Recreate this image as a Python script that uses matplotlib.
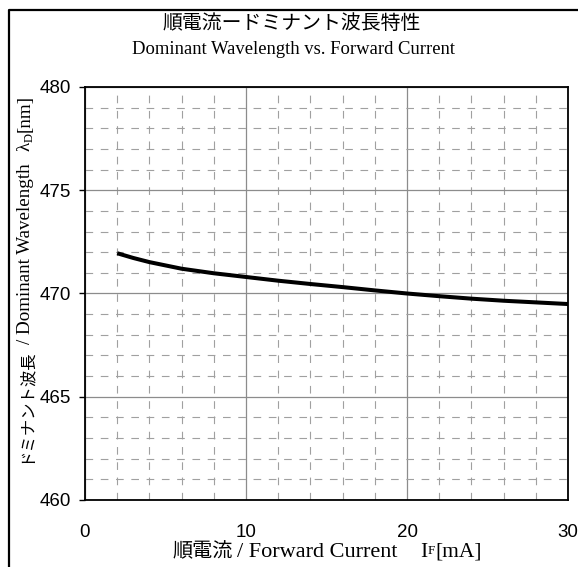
"""
Dominant wavelength vs. forward current chart (LED datasheet style).
"""

import matplotlib
matplotlib.use("Agg")
import matplotlib.pyplot as plt
from matplotlib.lines import Line2D
from matplotlib.ticker import MultipleLocator
from matplotlib.transforms import IdentityTransform

# Data
current_ma = [2, 3, 4, 6, 8, 10, 12, 14, 16, 18, 20, 22, 24, 26, 28, 30]
wavelength_nm = [471.95, 471.72, 471.52, 471.2, 470.98, 470.8, 470.62, 470.46,
                 470.31, 470.15, 470.0, 469.87, 469.75, 469.65, 469.57, 469.49]

x_ticks = [0, 10, 20, 30]
y_ticks = [460, 465, 470, 475, 480]

title_jp = "順電流ードミナント波長特性"
title_en = "Dominant Wavelength vs. Forward Current"

JP = "Noto Sans CJK JP"
SERIF = "Liberation Serif"
SANS = "Liberation Sans"

# label pieces: (text, family, size, gap before [px], baseline shift [px])
xlabel_runs = [
    ("順電流", JP, 14.5, 0, 0),
    ("/ Forward Current", SERIF, 16, 5, 0),
    ("I", SERIF, 15.5, 22, 0),
    ("F", SERIF, 9.5, 0, -3),
    ("[mA]", SERIF, 15.5, 1, 0),
]
ylabel_runs = [
    ("ドミナント波長", JP, 11.8, 0, 0),
    ("/ Dominant Wavelength", SERIF, 13.7, 4, 0),
    ("λ", SERIF, 13.7, 13, 0),
    ("D", SERIF, 9, 0, 3),
    ("[nm]", SERIF, 13.7, 1, 0),
]

plt.rcParams["lines.scale_dashes"] = False

W, H = 578, 567
fig = plt.figure(figsize=(W / 100, H / 100), dpi=100)
ax = fig.add_axes([85 / W, 1 - 500 / H, (568 - 85) / W, (500 - 87) / H])

ax.plot(current_ma, wavelength_nm, color="black", linewidth=2.9,
        solid_joinstyle="round", solid_capstyle="butt", zorder=5,
        clip_on=False)

ax.set_xlim(x_ticks[0], x_ticks[-1])
ax.set_ylim(y_ticks[0], y_ticks[-1])
ax.set_xticks(x_ticks)
ax.set_yticks(y_ticks)
ax.xaxis.set_minor_locator(MultipleLocator(2))
ax.yaxis.set_minor_locator(MultipleLocator(1))

ax.grid(True, which="major", color="#8c8c8c", linewidth=0.9, linestyle="-")
ax.grid(True, which="minor", color="#a0a0a0", linewidth=0.8,
        linestyle=(0, (5.5, 5.5)))

ax.tick_params(axis="x", which="both", length=0, pad=17)
ax.tick_params(axis="y", which="major", length=4, width=1, direction="out",
               pad=6)
ax.tick_params(axis="y", which="minor", length=0)
for lbl in ax.get_xticklabels() + ax.get_yticklabels():
    lbl.set_fontfamily(SANS)
    lbl.set_fontsize(13.5)

for sp in ax.spines.values():
    sp.set_linewidth(1.3)
    sp.set_color("black")

fig.text(292 / W, 1 - 23 / H, title_jp, ha="center", va="center",
         fontsize=14.3, family=JP)
fig.text(293 / W, 1 - 49 / H, title_en, ha="center", va="center",
         fontsize=13.4, family=SERIF)


def draw_runs(runs, x, y, vertical=False):
    """Place text pieces one after another (pixel coords, origin top-left)."""
    renderer = fig.canvas.get_renderer()
    pos = y if vertical else x
    for text, family, size, gap, shift in runs:
        if vertical:
            pos -= gap
            t = fig.text(x + shift, H - pos, text, family=family, fontsize=size,
                         rotation=90, rotation_mode="anchor", ha="left",
                         va="baseline", transform=IdentityTransform())
            pos -= t.get_window_extent(renderer).height
        else:
            pos += gap
            t = fig.text(pos, H - y - shift, text, family=family, fontsize=size,
                         ha="left", va="baseline", transform=IdentityTransform())
            pos += t.get_window_extent(renderer).width


draw_runs(xlabel_runs, 172, 557)
draw_runs(ylabel_runs, 30, 463, vertical=True)

# outer frame (cut by the image edge on the right and bottom)
fig.add_artist(Line2D([8.5 / W, 8.5 / W, 1.0], [0.0, 1 - 10 / H, 1 - 10 / H],
                      transform=fig.transFigure, color="black", linewidth=1.6))

fig.savefig("out.png", dpi=100, facecolor="white")
